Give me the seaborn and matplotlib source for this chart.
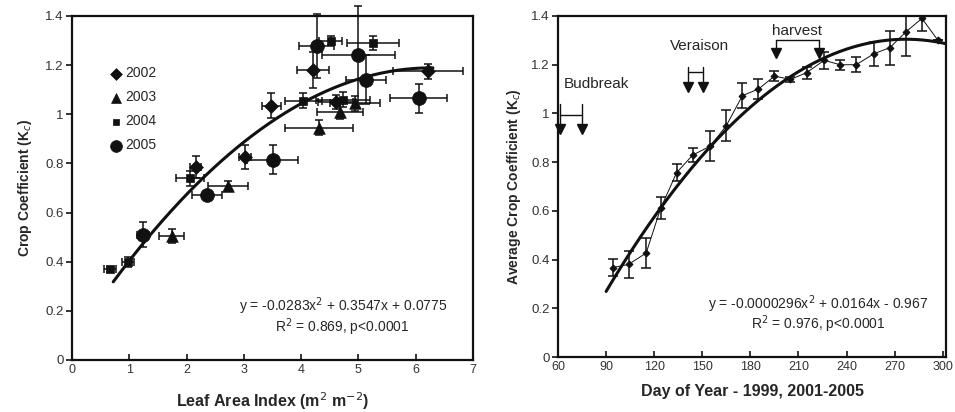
import numpy as np
import pandas as pd
import matplotlib
matplotlib.use("Agg")
import matplotlib.pyplot as plt
import seaborn as sns

sns.set_theme(style="white")
plt.rcParams['font.family'] = ['Liberation Sans', 'DejaVu Sans']

# ---------------- Left panel data: LAI vs Kc ----------------
years = [2002, 2002, 2002, 2002, 2002, 2002,
         2003, 2003, 2003, 2003, 2003,
         2004, 2004, 2004, 2004, 2004, 2004, 2004,
         2005, 2005, 2005, 2005, 2005, 2005, 2005]
lai = [4.21, 6.22, 3.48, 3.02, 2.16, 4.60,
       4.31, 2.72, 1.74, 4.68, 4.94,
       4.52, 5.25, 4.04, 4.73, 2.06, 0.66, 0.98,
       4.27, 5.00, 5.13, 6.05, 3.50, 2.36, 1.24]
kc = [1.18, 1.175, 1.035, 0.826, 0.785, 1.05,
      0.945, 0.71, 0.505, 1.01, 1.045,
      1.30, 1.29, 1.055, 1.06, 0.74, 0.37, 0.40,
      1.277, 1.24, 1.14, 1.065, 0.815, 0.67, 0.51]
lai_err = [0.28, 0.61, 0.16, 0.10, 0.10, 0.30,
           0.60, 0.35, 0.22, 0.40, 0.44,
           0.20, 0.45, 0.32, 0.47, 0.25, 0.10, 0.10,
           0.30, 0.64, 0.35, 0.50, 0.45, 0.26, 0.10]
kc_err = [0.075, 0.03, 0.05, 0.05, 0.045, 0.03,
          0.03, 0.02, 0.03, 0.03, 0.03,
          0.02, 0.03, 0.03, 0.03, 0.03, 0.01, 0.02,
          0.13, 0.20, 0.10, 0.06, 0.06, 0.01, 0.05]
left_coef = [-0.0283, 0.3547, 0.0775]
left_fit_range = [0.72, 6.3]

# ---------------- Right panel data: DOY vs average Kc ----------------
doy = [94, 104, 115, 124, 134, 144, 155, 165, 175, 185, 195, 205, 215,
       226, 236, 246, 257, 267, 277, 287, 297]
avg_kc = [0.367, 0.38, 0.427, 0.61, 0.757, 0.829, 0.866, 0.95, 1.073, 1.10,
          1.153, 1.14, 1.167, 1.218, 1.20, 1.20, 1.245, 1.27, 1.335, 1.39, 1.30]
avg_err = [0.035, 0.055, 0.06, 0.045, 0.035, 0.03, 0.06, 0.065, 0.05, 0.04,
           0.02, 0.01, 0.025, 0.035, 0.02, 0.03, 0.05, 0.07, 0.10, 0.05, 0.0]
right_coef = [-0.0000296, 0.0164, -0.967]
right_fit_range = [90, 302]

# phenology markers: (label, day1, day2, bar y, arrow y, text x, text y, line top)
events = [("Budbreak", 61, 75, 0.995, 0.935, 63.5, 1.12, 1.04),
          ("Veraison", 141, 150.5, 1.172, 1.11, 148, 1.275, 1.19),
          ("harvest", 196, 223, 1.30, 1.25, 209, 1.34, 1.30)]

df_left = pd.DataFrame(dict(year=years, lai=lai, kc=kc, lai_err=lai_err, kc_err=kc_err))
df_right = pd.DataFrame(dict(doy=doy, kc=avg_kc, err=avg_err))

fig = plt.figure(figsize=(9.55, 4.12), dpi=100)
axL = fig.add_axes([72/955, 52/412, 401/955, 344/412])
axR = fig.add_axes([558/955, 55/412, 388/955, 341/412])

black = "#111111"
tick_fs = 9.5
ylabel_fs = 10
xlabel_fs = 11.5
eq_fs = 10

# ---- left ----
axL.errorbar(df_left.lai, df_left.kc, xerr=df_left.lai_err, yerr=df_left.kc_err,
             fmt='none', ecolor=black, elinewidth=1.1, capsize=3, capthick=1.1,
             clip_on=False, zorder=2)
styles = {2002: ('D', 50), 2003: ('^', 70), 2004: ('s', 26), 2005: ('o', 100)}
for yr, (mk, s) in styles.items():
    sub = df_left[df_left.year == yr]
    sns.scatterplot(data=sub, x='lai', y='kc', marker=mk, s=s, color=black,
                    edgecolor=black, linewidth=0.5, ax=axL, label=str(yr), zorder=3)
xs = np.linspace(*left_fit_range, 200)
fitL = pd.DataFrame(dict(x=xs, y=np.polyval(left_coef, xs)))
sns.lineplot(data=fitL, x='x', y='y', color=black, linewidth=2.2, ax=axL, zorder=4)

axL.set_xlim(0, 7)
axL.set_ylim(0, 1.4)
axL.set_xticks(range(0, 8))
axL.set_yticks([0, 0.2, 0.4, 0.6, 0.8, 1.0, 1.2, 1.4])
axL.set_yticklabels(['0', '0.2', '0.4', '0.6', '0.8', '1', '1.2', '1.4'])
axL.set_xlabel("Leaf Area Index (m$^2$ m$^{-2}$)", fontsize=xlabel_fs, fontweight='bold', labelpad=10)
axL.set_ylabel("Crop Coefficient (K$_c$)", fontsize=ylabel_fs, fontweight='bold', labelpad=8)
leg = axL.legend(loc='upper left', bbox_to_anchor=(0.06, 0.87), frameon=False,
                 fontsize=10, handletextpad=-0.3, labelspacing=0.72, markerscale=0.85,
                 borderaxespad=0)
axL.text(0.675, 0.155, "y = -0.0283x$^2$ + 0.3547x + 0.0775", transform=axL.transAxes,
         ha='center', va='center', fontsize=eq_fs)
axL.text(0.675, 0.095, "R$^2$ = 0.869, p<0.0001", transform=axL.transAxes,
         ha='center', va='center', fontsize=eq_fs)

# ---- right ----
axR.errorbar(df_right.doy, df_right.kc, yerr=df_right.err, fmt='none', ecolor=black,
             elinewidth=1.1, capsize=3.5, capthick=1.1, zorder=2)
sns.lineplot(data=df_right, x='doy', y='kc', color=black, linewidth=0.7, marker='D',
             markersize=3.5, markeredgecolor=black, ax=axR, zorder=3)
xr = np.linspace(*right_fit_range, 200)
fitR = pd.DataFrame(dict(x=xr, y=np.polyval(right_coef, xr)))
sns.lineplot(data=fitR, x='x', y='y', color=black, linewidth=2.2, ax=axR, zorder=4)

for name, d1, d2, ybar, yarr, tx, ty, ytop in events:
    for d in (d1, d2):
        axR.plot([d, d], [ytop, yarr + 0.01], color=black, lw=1, zorder=5)
        axR.plot([d], [yarr], marker='v', ms=7, color=black, zorder=5, clip_on=False)
    axR.plot([d1, d2], [ybar, ybar], color=black, lw=1, zorder=5)
    axR.text(tx, ty, name, ha='left' if name == "Budbreak" else 'center',
             va='center', fontsize=11)

axR.set_xlim(60, 302)
axR.set_ylim(0, 1.4)
axR.set_xticks(range(60, 301, 30))
axR.set_yticks([0, 0.2, 0.4, 0.6, 0.8, 1.0, 1.2, 1.4])
axR.set_yticklabels(['0', '0.2', '0.4', '0.6', '0.8', '1', '1.2', '1.4'])
axR.set_xlabel("Day of Year - 1999, 2001-2005", fontsize=xlabel_fs, fontweight='bold', labelpad=8)
axR.set_ylabel("Average Crop Coefficient (K$_c$)", fontsize=ylabel_fs, fontweight='bold', labelpad=6)
axR.text(0.67, 0.155, "y = -0.0000296x$^2$ + 0.0164x - 0.967", transform=axR.transAxes,
         ha='center', va='center', fontsize=eq_fs)
axR.text(0.67, 0.095, "R$^2$ = 0.976, p<0.0001", transform=axR.transAxes,
         ha='center', va='center', fontsize=eq_fs)

for ax in (axL, axR):
    for sp in ax.spines.values():
        sp.set_visible(True)
        sp.set_color(black)
        sp.set_linewidth(1.6)
    ax.tick_params(axis='y', direction='out', length=4, width=1.2, color=black,
                   labelsize=tick_fs, labelcolor='#333333', left=True, pad=2)
    ax.tick_params(axis='x', direction='in', length=4, width=1.2, color=black,
                   labelsize=9, labelcolor='#333333', bottom=True, pad=3)
    ax.grid(False)

fig.savefig("out.png", dpi=100)
